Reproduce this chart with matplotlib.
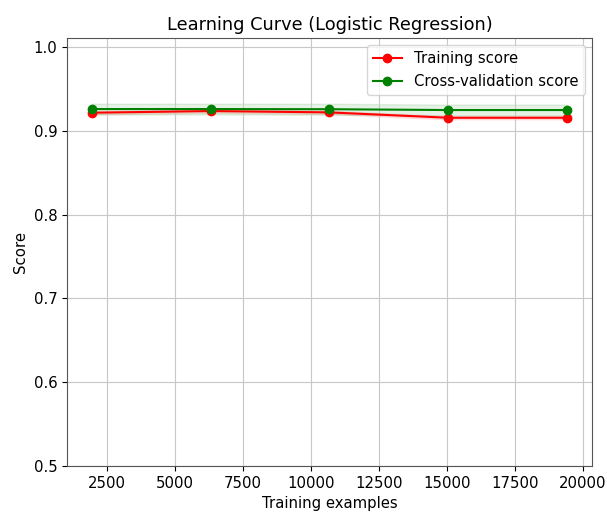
import numpy as np
import matplotlib
matplotlib.use("Agg")
import matplotlib.pyplot as plt

# --- Data ---
train_sizes = [1945, 6310, 10675, 15040, 19410]
train_mean  = [0.9218, 0.9238, 0.9222, 0.9158, 0.9158]
train_std   = [0.0020, 0.0020, 0.0020, 0.0020, 0.0020]
cv_mean     = [0.9262, 0.9262, 0.9260, 0.9250, 0.9250]
cv_std      = [0.0065, 0.0065, 0.0065, 0.0065, 0.0065]

train_mean = np.array(train_mean)
train_std  = np.array(train_std)
cv_mean    = np.array(cv_mean)
cv_std     = np.array(cv_std)

plt.rcParams['font.size'] = 10.7

fig = plt.figure(figsize=(6.07, 5.18), dpi=100)
ax = fig.add_axes([0.1104, 0.1004, 0.8649, 0.8262])

ax.set_title("Learning Curve (Logistic Regression)", fontsize=12.8)
ax.set_xlabel("Training examples")
ax.set_ylabel("Score")
ax.set_xlim(1030, 20330)
ax.set_ylim(0.5, 1.011)
ax.grid(True, color='#c8c8c8')
for spine in ax.spines.values():
    spine.set_edgecolor('#555555')

ax.fill_between(train_sizes, train_mean - train_std, train_mean + train_std,
                alpha=0.1, color="r")
ax.fill_between(train_sizes, cv_mean - cv_std, cv_mean + cv_std,
                alpha=0.1, color="g")
ax.plot(train_sizes, train_mean, 'o-', color="r", label="Training score")
ax.plot(train_sizes, cv_mean, 'o-', color="g", label="Cross-validation score")
ax.legend(loc="best")

fig.savefig("out.png", dpi=100)
